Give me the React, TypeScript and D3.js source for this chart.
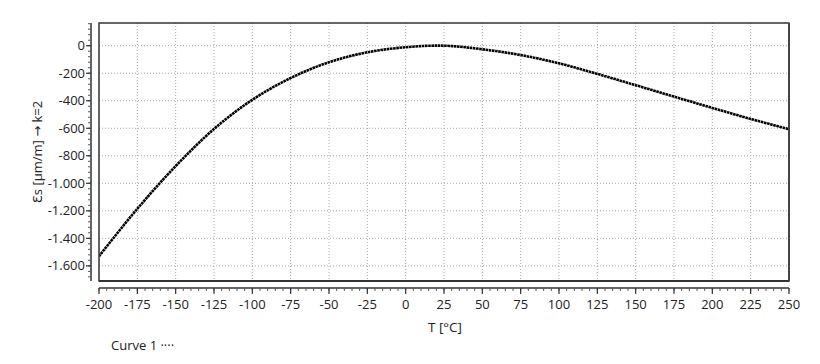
import React from 'react';
import * as d3 from 'd3';

// temperature readings every 25 °C and the apparent strain
const temps = [-200, -175, -150, -125, -100, -75, -50, -25, 0, 25, 50, 75, 100, 125, 150, 175, 200, 225, 250];
const strain = [-1530, -1185, -875, -605, -393, -235, -120, -48, -11, 0, -26, -68, -128, -205, -287, -370, -452, -532, -607];

const xTicks = d3.range(-200, 251, 25);
const yTicks = [0, -200, -400, -600, -800, -1000, -1200, -1400, -1600];

const W = 820;
const H = 364;
const plot = { left: 99, right: 789, top: 23, bottom: 281 };
const font = "'Open Sans', 'DejaVu Sans', sans-serif";

// German style thousands: -1.000
const fmtY = (v: number) => {
    const s = Math.abs(v).toString().replace(/\B(?=(\d{3})+(?!\d))/g, '.');
    return v < 0 ? '-' + s : s;
};

const App: React.FC = () => {
    const x = d3.scaleLinear().domain([-200, 250]).range([plot.left, plot.right]);
    const y = d3.scaleLinear().domain([-1710, 165]).range([plot.bottom, plot.top]);

    const line = d3.line<number>()
        .x((_, i) => x(temps[i]))
        .y(d => y(d))
        .curve(d3.curveCatmullRom);

    const xMinor = d3.range(-200, 251, 5);
    const yMinor = d3.range(-1680, 165, 40);
    const xAxisY = 288;
    const yAxisX = 91;

    return (
        <svg width={W} height={H} style={{ position: 'absolute', left: 0, top: 0, background: '#fff' }}
            fontFamily={font}>
            <defs>
                <clipPath id="plotClip">
                    <rect x={plot.left} y={plot.top} width={plot.right - plot.left} height={plot.bottom - plot.top} />
                </clipPath>
            </defs>

            {/* grid */}
            <g stroke="#a8a8a8" strokeWidth={1} strokeDasharray="1 2">
                {xTicks.slice(1, -1).map(t => (
                    <line key={'gx' + t} x1={x(t)} x2={x(t)} y1={plot.top} y2={plot.bottom} />
                ))}
                {yTicks.map(t => (
                    <line key={'gy' + t} x1={plot.left} x2={plot.right} y1={y(t)} y2={y(t)} />
                ))}
            </g>

            {/* curve */}
            <path d={line(strain) || ''} fill="none" stroke="#000" strokeWidth={2.6}
                strokeDasharray="2.6 0.6" clipPath="url(#plotClip)" />

            {/* plot frame */}
            <rect x={plot.left} y={plot.top} width={plot.right - plot.left} height={plot.bottom - plot.top}
                fill="none" stroke="#333" strokeWidth={1.5} />
            <line x1={plot.right} x2={plot.right} y1={plot.top} y2={plot.bottom} stroke="#444" strokeWidth={2} />
            <line x1={plot.left} x2={plot.right} y1={plot.bottom} y2={plot.bottom} stroke="#333" strokeWidth={2} />

            {/* y axis */}
            <line x1={yAxisX} x2={yAxisX} y1={plot.top} y2={plot.bottom} stroke="#333" strokeWidth={1.5} />
            {yMinor.map(t => (
                <line key={'ym' + t} x1={yAxisX - 3} x2={yAxisX} y1={y(t)} y2={y(t)} stroke="#555" strokeWidth={1} />
            ))}
            {yTicks.map(t => (
                <g key={'yt' + t}>
                    <line x1={yAxisX - 5} x2={yAxisX} y1={y(t)} y2={y(t)} stroke="#333" strokeWidth={1.2} />
                    <text x={yAxisX - 6} y={y(t)} dy="0.35em" textAnchor="end" fontSize={13} fill="#222">{fmtY(t)}</text>
                </g>
            ))}
            <text transform={`translate(42,${(plot.top + plot.bottom) / 2}) rotate(-90)`} textAnchor="middle"
                fontSize={13} fill="#222">Ɛs [µm/m] → k=2</text>

            {/* x axis */}
            <line x1={plot.left} x2={plot.right} y1={xAxisY} y2={xAxisY} stroke="#333" strokeWidth={1.5} />
            {xMinor.map(t => (
                <line key={'xm' + t} x1={x(t)} x2={x(t)} y1={xAxisY} y2={xAxisY + 3} stroke="#555" strokeWidth={1} />
            ))}
            {xTicks.map(t => (
                <g key={'xt' + t}>
                    <line x1={x(t)} x2={x(t)} y1={xAxisY} y2={xAxisY + 6} stroke="#333" strokeWidth={1.2} />
                    <text x={x(t)} y={xAxisY + 21} textAnchor="middle" fontSize={13} fill="#222">{t}</text>
                </g>
            ))}
            <text x={445} y={332} textAnchor="middle" fontSize={13.5} fill="#222">T [°C]</text>

            {/* legend */}
            <text x={111} y={350} fontSize={13} fill="#222">Curve 1 ····</text>
        </svg>
    );
};

export default App;
